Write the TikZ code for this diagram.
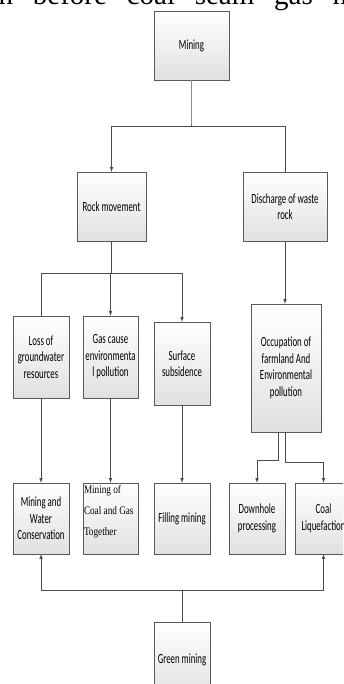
\documentclass[tikz,border=0pt]{standalone}
\usepackage{fontspec}
\setmainfont{Liberation Serif}
\newfontfamily\boxfont[FakeStretch=0.63]{Carlito}
\newfontfamily\serifbox[FakeStretch=0.8]{Liberation Serif}
\usetikzlibrary{shadows}
\begin{document}
\begin{tikzpicture}[x=1pt,y=-1pt,
    box/.style={draw=black!65, top color=white, bottom color=black!12, align=center, inner sep=1pt,
      drop shadow={shadow xshift=1pt, shadow yshift=-1pt, opacity=0.25, fill=black!60},
      font=\boxfont\fontsize{14}{16.5}\selectfont},
    link/.style={draw=black!70, line width=0.6pt}]
    \useasboundingbox (0,0) rectangle (343,684);
    \clip (0,0) rectangle (343,684);

    % caption line cut off at the top
    \node[anchor=base west, inner sep=0pt, font=\fontsize{29}{30}\selectfont] (caption) at (-16,4.5)
      {\hbox to 379pt{on\hfill before\hfill coal\hfill seam\hfill gas\hfill mi}};

    \node[box, minimum width=75pt, minimum height=69pt] (mining) at (191.5,45.5) {Mining};
    \node[box, minimum width=69pt, minimum height=69pt] (rock) at (111.5,206.5) {Rock movement};
    \node[box, minimum width=84pt, minimum height=69pt] (discharge) at (285,206.5) {Discharge of waste\\rock};

    \node[box, minimum width=56pt, minimum height=82pt] (loss) at (41,357) {Loss of\\groundwater\\resources};
    \node[box, minimum width=55pt, minimum height=82pt] (gas) at (110.5,357) {Gas cause\\environmenta\\l pollution};
    \node[box, minimum width=56pt, minimum height=83pt] (subsid) at (182,363.5) {Surface\\subsidence};
    \node[box, minimum width=70pt, minimum height=128pt] (occup) at (286,368) {Occupation of\\farmland And\\Environmental\\pollution};

    \node[box, minimum width=56pt, minimum height=71pt] (water) at (41,518.5) {Mining and\\Water\\Conservation};
    \node[box, minimum width=55pt, minimum height=71pt] (coalgas) at (110.5,518.5) {};
    \node[anchor=north west, align=left, inner sep=0pt, font=\serifbox\fontsize{11.5}{21}\selectfont] (coalgastext)
      at ([xshift=1pt,yshift=-2pt]coalgas.north west) {Mining of\\Coal and Gas\\Together};
    \node[box, minimum width=56pt, minimum height=71pt] (filling) at (182,518.5) {Filling mining};
    \node[box, minimum width=56pt, minimum height=71pt] (downhole) at (257,518.5) {Downhole\\processing};
    \node[box, minimum width=57pt, minimum height=71pt] (liquef) at (323.5,518.5) {Coal\\Liquefaction};

    \node[box, minimum width=56pt, minimum height=76pt] (green) at (182,660) {Green mining};

    % connectors
    \coordinate (split1) at (191.5,126);
    \coordinate (split2) at (111.5,273);
    \coordinate (merge) at (182,590);

    \draw[link, draw=black!45, line width=0.8pt] (mining) -- (split1);
    \fill[black!70] (split1) circle (1pt);
    \draw[link,-latex] (split1) -| (rock);
    \draw[link] (split1) -| (discharge);
    \draw[link,-latex] (discharge.south) -- (discharge.south |- occup.north);

    \draw[link] (rock) -- (split2);
    \fill[black!70] (split2) circle (0.8pt);
    \draw[link] (split2) -| (loss);
    \draw[link,-latex] (split2) -| (gas);
    \draw[link,-latex] (split2) -| (subsid);

    \draw[link,-latex] (loss) -- (water);
    \draw[link,-latex] (gas) -- (coalgas);
    \draw[link,-latex] (subsid) -- (filling);

    \draw[link,-latex] ([xshift=-8pt]occup.south) -- ++(0,28) -| (downhole);
    \draw[link,-latex] ([xshift=-1pt]occup.south) -- ++(0,30) -| (liquef);

    \draw[link] (green) -- (merge);
    \draw[link,-latex] (merge) -| (water);
    \draw[link,-latex] (merge) -| (liquef);
  \end{tikzpicture}
\end{document}
